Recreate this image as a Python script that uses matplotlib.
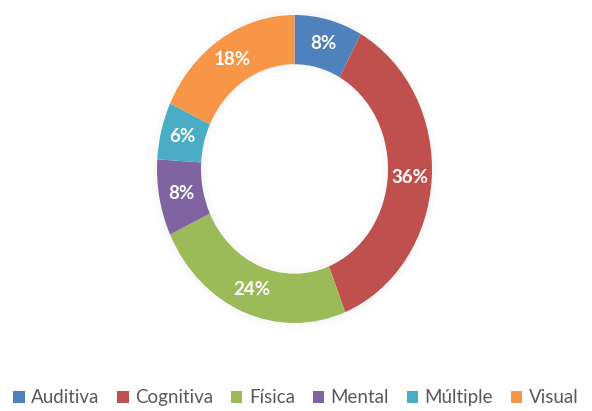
import matplotlib.pyplot as plt

categories = ['Auditiva', 'Cognitiva', 'Física', 'Mental', 'Múltiple', 'Visual']
values = [8, 36, 24, 8, 6, 18]
colors = ['#4F81BD', '#C0504D', '#9BBB59', '#8064A2', '#4BACC6', '#F79646']

plt.rcParams['font.family'] = ['Lato', 'DejaVu Sans']

fig = plt.figure(figsize=(5.92, 4.11), dpi=100)
ax = fig.add_axes([157 / 592, 88 / 411, 275 / 592, 308 / 411])

# faint shadow rings around the donut
for i, a in enumerate([0.07, 0.045, 0.025]):
    ax.pie([1], radius=1.0 + 0.015 * (i + 1), colors=['#aaaaaa'],
           wedgeprops=dict(width=0.015, alpha=a, linewidth=0))
    ax.pie([1], radius=0.68 - 0.015 * i, colors=['#aaaaaa'],
           wedgeprops=dict(width=0.015, alpha=a, linewidth=0))

wedges, texts, autotexts = ax.pie(
    values, colors=colors, startangle=90, counterclock=False,
    autopct='%d%%', pctdistance=0.84,
    wedgeprops=dict(width=0.32, linewidth=0),
    textprops=dict(color='white', fontsize=13.5, fontweight='bold'))

ax.set_aspect('auto')
ax.set_xlim(-1, 1)
ax.set_ylim(-1, 1)
ax.axis('off')

leg = fig.legend(wedges, categories, loc='lower center', ncol=6,
                 bbox_to_anchor=(0.5, -0.03), frameon=False,
                 fontsize=13.5, handlelength=0.6, handleheight=0.6,
                 handletextpad=0.35, columnspacing=0.95, labelcolor='#595959')

fig.savefig('out.png', dpi=100)
